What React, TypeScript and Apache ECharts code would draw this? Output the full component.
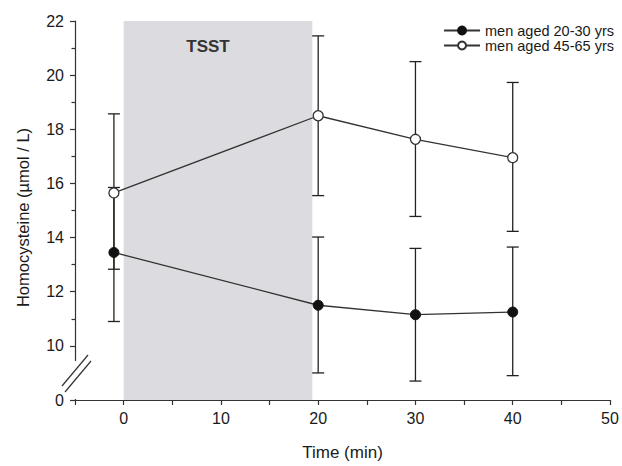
import React, { useEffect, useRef } from "react";
import * as echarts from "echarts";

// Time points (min); the baseline sample is drawn slightly left of 0
const timePoints = [-1, 20, 30, 40];

// men aged 20-30 yrs (filled)
const youngMean = [13.45, 11.5, 11.15, 11.25];
const youngHigh = [15.85, 14.02, 13.6, 13.65];
const youngLow = [10.9, 9.0, 8.7, 8.9];

// men aged 45-65 yrs (open)
const olderMean = [15.65, 18.5, 17.63, 16.95];
const olderHigh = [18.57, 21.45, 20.5, 19.73];
const olderLow = [12.83, 15.55, 14.78, 14.23];

// broken y axis: the lowest tick stands for 0
const yTickValues = [8, 10, 12, 14, 16, 18, 20, 22];
const yTickLabels = ["0", "10", "12", "14", "16", "18", "20", "22"];
const xLabelValues = [0, 10, 20, 30, 40, 50];

// TSST period
const tsstStart = 0;
const tsstEnd = 19.4;
const tsstLabel = "TSST";

const seriesNames = ["men aged 20-30 yrs", "men aged 45-65 yrs"];

const FONT = "Liberation Sans";

export default function App() {
  const ref = useRef<HTMLDivElement>(null);

  useEffect(() => {
    if (!ref.current) return;
    const chart = echarts.init(ref.current, null, { renderer: "svg" });

    const errData = (lo: number[], hi: number[]) =>
      timePoints.map((t, i) => [t, lo[i], hi[i]]);

    const renderErr = (params: any, api: any) => {
      const x = api.value(0);
      const lo = api.value(1);
      const hi = api.value(2);
      const pHi = api.coord([x, hi]);
      const pLo = api.coord([x, lo]);
      const w = 6;
      const style = { stroke: "#222", lineWidth: 1.3 };
      return {
        type: "group",
        children: [
          { type: "line", shape: { x1: pHi[0], y1: pHi[1], x2: pLo[0], y2: pLo[1] }, style },
          { type: "line", shape: { x1: pHi[0] - w, y1: pHi[1], x2: pHi[0] + w, y2: pHi[1] }, style },
          { type: "line", shape: { x1: pLo[0] - w, y1: pLo[1], x2: pLo[0] + w, y2: pLo[1] }, style },
        ],
      };
    };

    const option: any = {
      animation: false,
      backgroundColor: "#ffffff",
      textStyle: { fontFamily: FONT },
      grid: { left: 75, right: 12, top: 21, bottom: 63 },
      legend: {
        orient: "vertical",
        right: 3,
        top: 18,
        itemWidth: 36,
        itemHeight: 10,
        itemGap: 0,
        data: seriesNames,
        textStyle: { fontFamily: FONT, fontSize: 14.5, color: "#1a1a1a", lineHeight: 15 },
      },
      xAxis: {
        type: "value",
        min: -5,
        max: 50,
        interval: 5,
        z: 5,
        name: "Time (min)",
        nameLocation: "middle",
        nameGap: 44,
        nameTextStyle: { fontFamily: FONT, fontSize: 17, color: "#1a1a1a" },
        axisLine: { onZero: false, lineStyle: { color: "#333", width: 1.2 } },
        axisTick: { length: 5, lineStyle: { color: "#333", width: 1.2 } },
        axisLabel: {
          margin: 10,
          fontFamily: FONT,
          fontSize: 16,
          color: "#1a1a1a",
          formatter: (v: number) => (xLabelValues.includes(v) ? String(v) : ""),
        },
        splitLine: { show: false },
      },
      yAxis: {
        type: "value",
        min: 8,
        max: 22,
        interval: 2,
        z: 5,
        name: "Homocysteine (µmol / L)",
        nameLocation: "middle",
        nameGap: 44,
        nameTextStyle: { fontFamily: FONT, fontSize: 16.5, color: "#1a1a1a", padding: [0, 14, 0, 0] },
        axisLine: { show: true, onZero: false, lineStyle: { color: "#333", width: 1.2 } },
        axisTick: { length: 5, lineStyle: { color: "#333", width: 1.2 } },
        minorTick: { show: true, splitNumber: 2, length: 3.5, lineStyle: { color: "#333", width: 1.2 } },
        axisLabel: {
          margin: 11,
          fontFamily: FONT,
          fontSize: 16,
          color: "#1a1a1a",
          formatter: (v: number) => {
            const i = yTickValues.indexOf(v);
            return i >= 0 ? yTickLabels[i] : "";
          },
        },
        splitLine: { show: false },
      },
      graphic: [
        {
          type: "rect",
          z: 100,
          shape: { x: 66, y: 361, width: 14, height: 38 },
          style: { fill: "#ffffff" },
        },
        {
          type: "line",
          z: 101,
          shape: { x1: 62, y1: 386, x2: 88, y2: 355 },
          style: { stroke: "#333", lineWidth: 1.2 },
        },
        {
          type: "line",
          z: 101,
          shape: { x1: 65, y1: 392, x2: 91, y2: 361 },
          style: { stroke: "#333", lineWidth: 1.2 },
        },
      ],
      series: [
        {
          type: "line",
          name: "__tsst",
          data: [],
          z: 1,
          silent: true,
          markArea: {
            silent: true,
            itemStyle: { color: "#dcdce0" },
            label: {
              show: true,
              position: "insideTop",
              distance: 17,
              offset: [-10, 0],
              fontFamily: FONT,
              fontSize: 17,
              fontWeight: "bold",
              color: "#333",
            },
            data: [[{ name: tsstLabel, xAxis: tsstStart }, { xAxis: tsstEnd }]],
          },
        },
        {
          type: "custom",
          name: "__errYoung",
          z: 2,
          silent: true,
          renderItem: renderErr,
          encode: { x: 0, y: [1, 2] },
          data: errData(youngLow, youngHigh),
        },
        {
          type: "custom",
          name: "__errOlder",
          z: 2,
          silent: true,
          renderItem: renderErr,
          encode: { x: 0, y: [1, 2] },
          data: errData(olderLow, olderHigh),
        },
        {
          type: "line",
          name: seriesNames[0],
          z: 3,
          data: timePoints.map((t, i) => [t, youngMean[i]]),
          symbol: "circle",
          symbolSize: 10,
          lineStyle: { color: "#333", width: 1.3 },
          itemStyle: { color: "#111", borderColor: "#111", borderWidth: 1 },
        },
        {
          type: "line",
          name: seriesNames[1],
          z: 3,
          data: timePoints.map((t, i) => [t, olderMean[i]]),
          symbol: "circle",
          symbolSize: 10,
          lineStyle: { color: "#333", width: 1.3 },
          itemStyle: { color: "#ffffff", borderColor: "#333", borderWidth: 1.3 },
        },
      ],
    };

    chart.setOption(option);
    return () => chart.dispose();
  }, []);

  return (
    <div
      ref={ref}
      style={{ position: "fixed", left: 0, top: 0, width: 622, height: 466 }}
    />
  );
}
